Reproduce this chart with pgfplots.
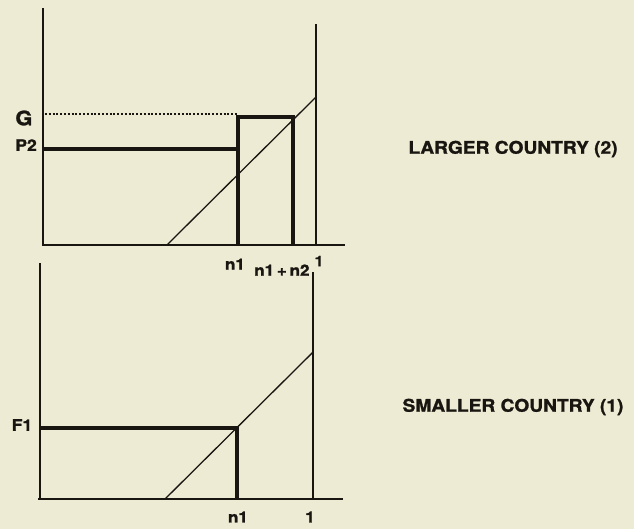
\documentclass[border=0pt]{standalone}
\usepackage{pgfplots}
\pgfplotsset{compat=1.18}
\usepackage{graphicx}
\usepackage{fontspec}
\setmainfont{TeX Gyre Heros}[BoldFeatures={FakeBold=1.2}]
\definecolor{bg}{RGB}{238,235,212}
\definecolor{ink}{RGB}{25,22,18}
\newcommand{\lbl}[2]{\fontsize{#1}{#1}\selectfont\bfseries\scalebox{1.1}[1]{#2}}
\begin{document}
\begin{tikzpicture}[x=1bp,y=1bp]
\fill[bg] (0,0) rectangle (634,529);
\pgfplotsset{every axis/.style={x=273bp,y=273bp,xmin=0,xmax=1.12,ymin=0,ymax=0.87,
  axis lines=none,clip=false,anchor=south west},
  thin line/.style={ink,line width=1.6bp,no marks},
  thick line/.style={ink,line width=3.4bp,no marks}}
% ---- larger country (top)
\begin{axis}[at={(43bp,284bp)}]
\addplot[thin line] coordinates {(0,0) (0,0.868)};
\addplot[thin line] coordinates {(-0.004,0) (1.106,0)};
\addplot[thin line] coordinates {(1,0) (1,0.81)};
\addplot[ink,line width=1.3bp,no marks] coordinates {(0.454,0) (1,0.542)};
\addplot[ink,line width=1.4bp,dash pattern=on 2bp off 1.8bp,no marks] coordinates {(0.007,0.48) (0.714,0.48)};
\addplot[thick line] coordinates {(0.714,0) (0.714,0.469) (0.916,0.469) (0.916,0)};
\addplot[thick line] coordinates {(0.003,0.352) (0.714,0.352)};
\node[ink,inner sep=0] at (axis cs:-0.07,0.465) {\lbl{20}{G}};
\node[ink,inner sep=0] at (axis cs:-0.062,0.366) {\lbl{16}{P2}};
\node[ink,inner sep=0] at (axis cs:0.703,-0.07) {\lbl{15.5}{n1}};
\node[ink,inner sep=0] at (axis cs:0.875,-0.092) {\lbl{15.5}{n1\,+\,n2}};
\node[ink,inner sep=0] at (axis cs:1.011,-0.059) {\lbl{14.5}{1}};
\end{axis}
% ---- smaller country (bottom)
\begin{axis}[at={(40bp,30bp)}]
\addplot[thin line] coordinates {(0,0) (0,0.864)};
\addplot[thin line] coordinates {(-0.007,0) (1.11,0)};
\addplot[thin line] coordinates {(1,0) (1,0.83)};
\addplot[ink,line width=1.3bp,no marks] coordinates {(0.458,0) (1,0.538)};
\addplot[thick line] coordinates {(0.003,0.26) (0.722,0.26) (0.722,0)};
\node[ink,inner sep=0] at (axis cs:-0.066,0.271) {\lbl{16}{F1}};
\node[ink,inner sep=0] at (axis cs:0.725,-0.066) {\lbl{15.5}{n1}};
\node[ink,inner sep=0] at (axis cs:0.989,-0.066) {\lbl{15.5}{1}};
\end{axis}
\node[ink,inner sep=0] at (513,380) {\lbl{17.5}{LARGER COUNTRY (2)}};
\node[ink,inner sep=0] at (513,122) {\lbl{17.5}{SMALLER COUNTRY (1)}};
\end{tikzpicture}
\end{document}
